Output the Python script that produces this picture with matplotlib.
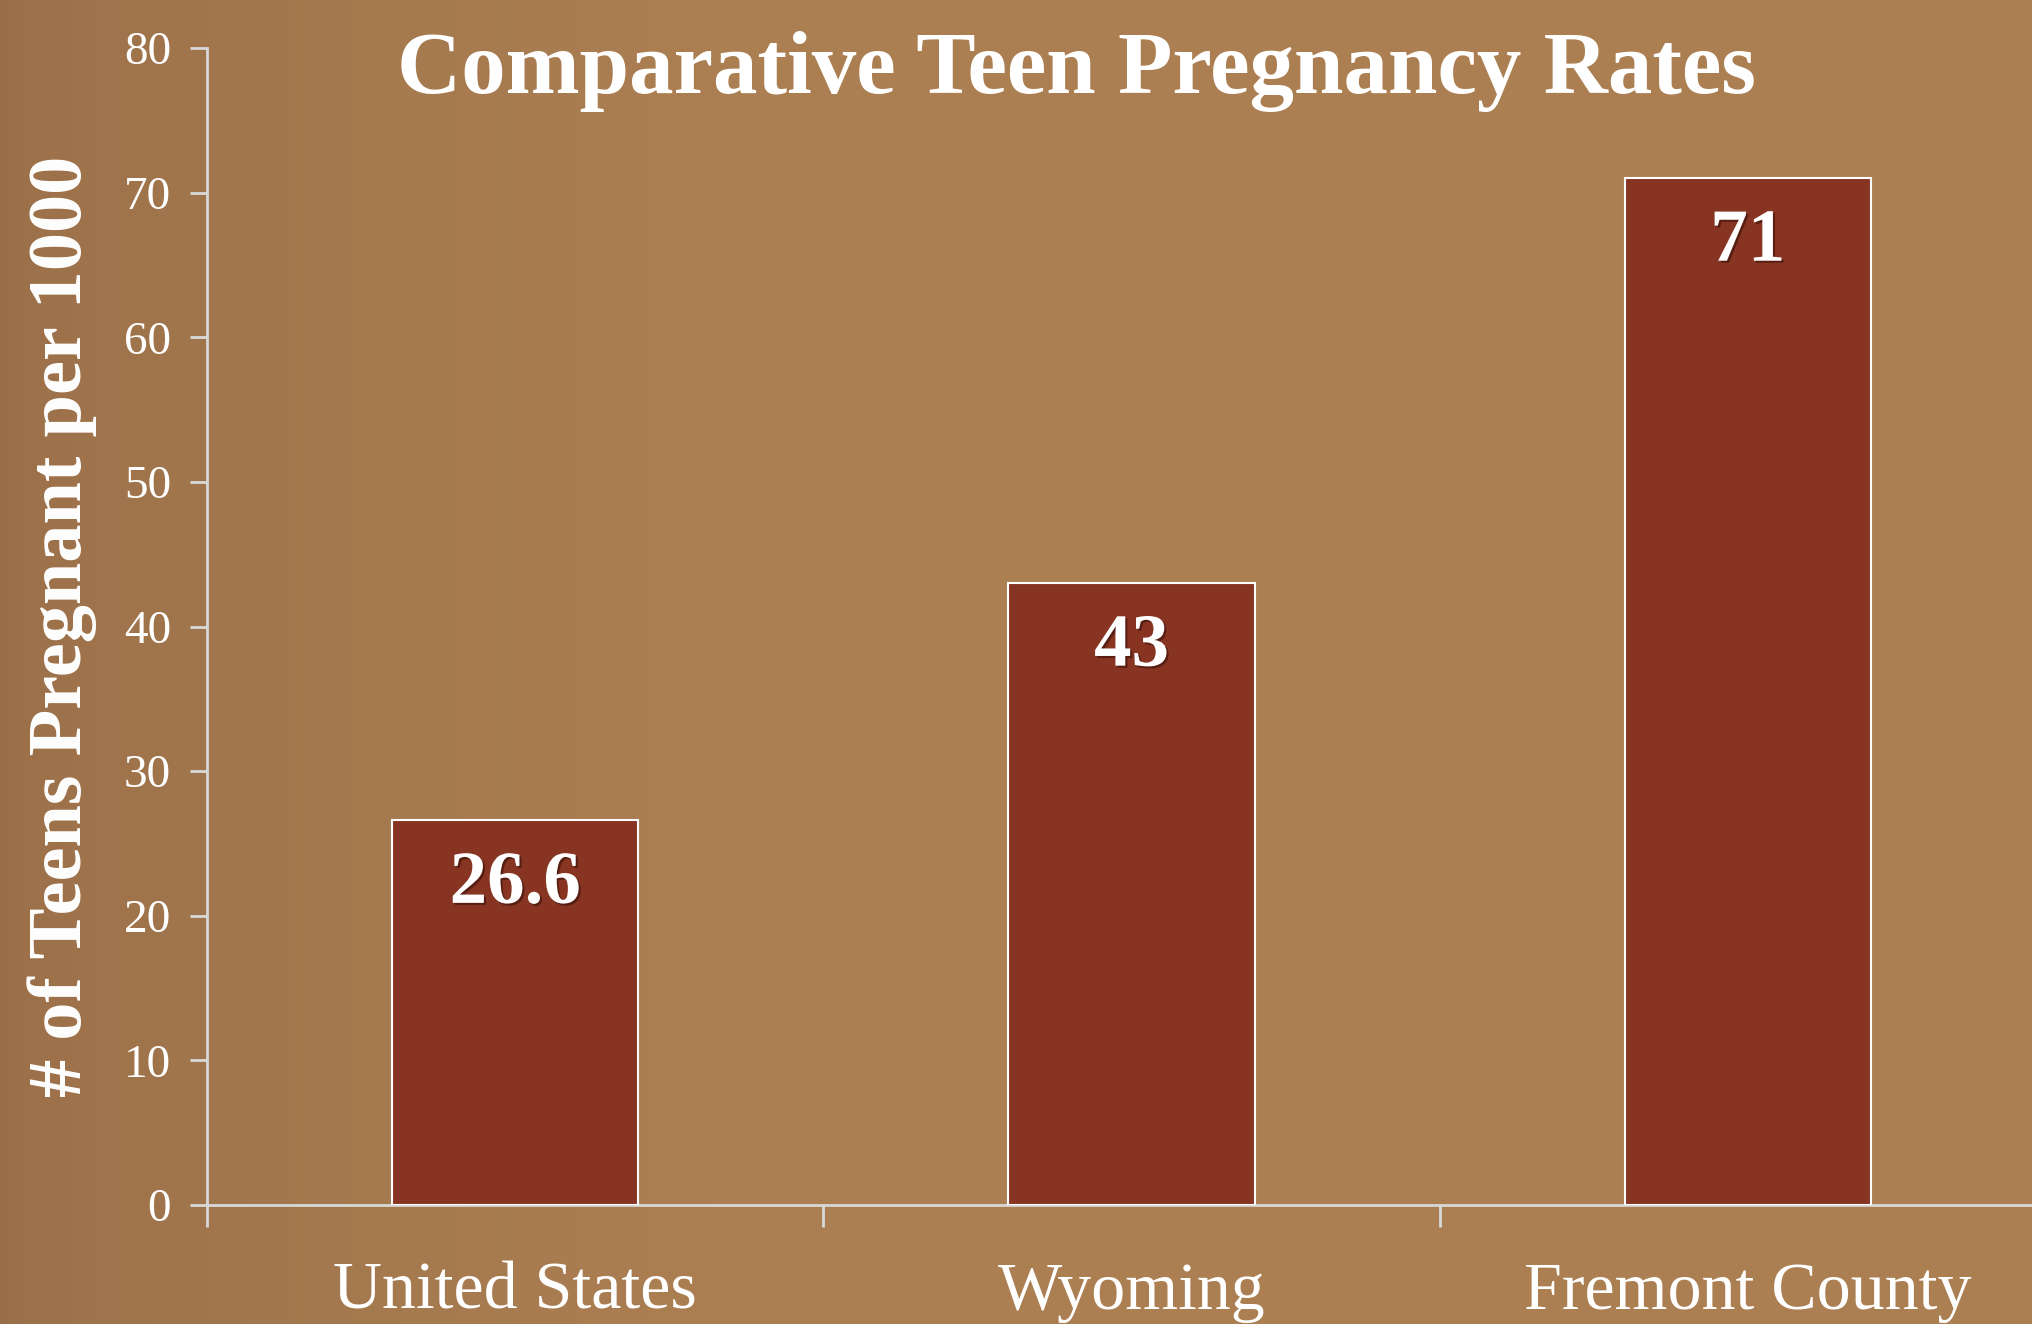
import numpy as np
import matplotlib
matplotlib.use("Agg")
import matplotlib.pyplot as plt
import matplotlib.patheffects as pe

categories = ["United States", "Wyoming", "Fremont County"]
values = [26.6, 43, 71]
value_labels = ["26.6", "43", "71"]
yticks = [0, 10, 20, 30, 40, 50, 60, 70, 80]

SERIF = ["Liberation Serif", "DejaVu Serif"]

fig = plt.figure(figsize=(20.32, 13.24), dpi=100)
# background gradient (darker at left edge)
bg = fig.add_axes([0, 0, 1, 1], zorder=-10)
bg.axis("off")
g = np.linspace(0, 1, 256)
shade = np.clip(g / 0.35, 0, 1) ** 0.6
c0 = np.array([0x9A, 0x6E, 0x48]) / 255
c1 = np.array([0xAB, 0x7F, 0x52]) / 255
img = c0[None, :] * (1 - shade[:, None]) + c1[None, :] * shade[:, None]
bg.imshow(img[None, :, :], aspect="auto", extent=[0, 1, 0, 1])
bg.set_xlim(0, 1); bg.set_ylim(0, 1)

ax = fig.add_axes([207 / 2032, 119 / 1324, 1849 / 2032, 1157 / 1324])
ax.patch.set_alpha(0)
x = np.arange(len(categories))
bars = ax.bar(x, values, width=0.4, color="#873423", edgecolor="white", linewidth=1.5, zorder=3)
ax.set_xlim(-0.5, 2.5)
ax.set_ylim(0, 80)
ax.set_yticks(yticks)
ax.set_yticklabels([str(t) for t in yticks], family=SERIF, fontsize=34, color="white")
ax.set_xticks([-0.5, 0.5, 1.5, 2.5])
ax.set_xticklabels([])
ax.set_xticks(x, minor=True)
ax.set_xticklabels(categories, minor=True, family=SERIF, fontsize=49, color="white")
ax.tick_params(axis="x", which="minor", length=0, pad=41)
ax.tick_params(axis="x", which="major", length=16, width=2, color="#D8D8D8", direction="out")
ax.tick_params(axis="y", length=12, width=2, color="#D8D8D8", direction="out", pad=14)
for s in ["top", "right"]:
    ax.spines[s].set_visible(False)
for s in ["left", "bottom"]:
    ax.spines[s].set_color("#D8D8D8")
    ax.spines[s].set_linewidth(2)

ax.set_ylabel("# of Teens Pregnant per 1000", family=SERIF, fontsize=55, fontweight="bold",
              color="white", labelpad=19)

for xi, v, lab in zip(x, values, value_labels):
    ax.annotate(lab, (xi, v), xytext=(0, -22), textcoords="offset points", ha="center", va="top",
                family=SERIF, fontsize=54, fontweight="bold", color="white", zorder=5,
                path_effects=[pe.withSimplePatchShadow(offset=(1.5, -1.5), shadow_rgbFace="#3a1008", alpha=0.6)])

fig.text(1076 / 2032, 1 - 72 / 1324, "Comparative Teen Pregnancy Rates", family=SERIF, fontsize=64,
         fontweight="bold", color="white", ha="center", va="center")

fig.savefig("out.png", dpi=100)
